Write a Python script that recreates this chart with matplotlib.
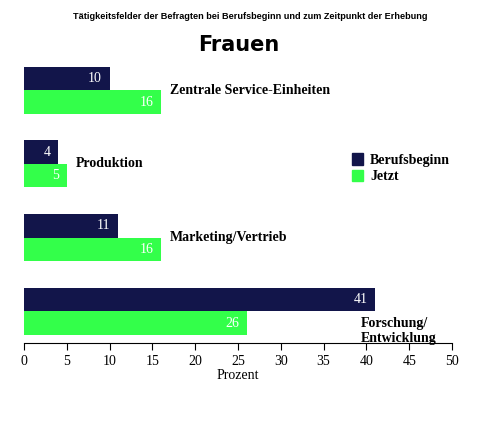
import matplotlib
matplotlib.use("Agg")
import matplotlib.pyplot as plt

categories = ["Zentrale Service-Einheiten", "Produktion", "Marketing/Vertrieb", "Forschung/\nEntwicklung"]
berufsbeginn = [10, 4, 11, 41]
jetzt = [16, 5, 16, 26]
ticks = [0, 5, 10, 15, 20, 25, 30, 35, 40, 45, 50]

navy = "#12154a"
green = "#33ff4a"

fig = plt.figure(figsize=(5, 4.44), dpi=100)
ax = fig.add_axes([0.048, 1 - 343/444, 0.856, (343 - 60)/444])
ax.set_xlim(0, 50)
ax.set_ylim(283, 0)

serif = "Liberation Serif"
h = 23.5
for i, (b, j, c) in enumerate(zip(berufsbeginn, jetzt, categories)):
    yb = 18.5 + 73.7 * i
    yj = yb + h
    ax.barh(yb, b, height=h, color=navy)
    ax.barh(yj, j, height=h, color=green)
    ax.text(b - 0.9, yb, str(b), color="white", ha="right", va="center", family=serif, fontsize=10)
    ax.text(j - 0.9, yj, str(j), color="white", ha="right", va="center", family=serif, fontsize=10)
    if i == 3:
        ax.text(39.3, yj + 8, c, ha="left", va="center", family=serif, fontsize=10, fontweight="bold", linespacing=1.2)
    else:
        ax.text(max(b, j) + 1.0, yb + h/2, c, ha="left", va="center", family=serif, fontsize=10, fontweight="bold")

for s in ["left", "right", "top"]:
    ax.spines[s].set_visible(False)
ax.set_yticks([])
ax.set_xticks(ticks)
ax.tick_params(axis="x", direction="out", length=5, labelsize=10)
for lab in ax.get_xticklabels():
    lab.set_family(serif)
ax.set_xlabel("Prozent", family=serif, fontsize=10, labelpad=1)

fig.text(0.5, 0.963, "Tätigkeitsfelder der Befragten bei Berufsbeginn und zum Zeitpunkt der Erhebung",
         ha="center", va="center", fontsize=6.6, fontweight="bold", family="Liberation Sans")
fig.text(0.478, 0.898, "Frauen", ha="center", va="center", fontsize=15, fontweight="bold", family="Liberation Sans Narrow")

from matplotlib.patches import Patch
leg = fig.legend(handles=[Patch(color=navy, label="Berufsbeginn"), Patch(color=green, label="Jetzt")],
                 loc="upper left", bbox_to_anchor=(0.69, 0.67), frameon=False,
                 prop={"family": serif, "size": 10, "weight": "bold"},
                 handlelength=0.8, handleheight=0.9, handletextpad=0.5, labelspacing=0.2, borderpad=0)

fig.savefig("out.png", dpi=100)
